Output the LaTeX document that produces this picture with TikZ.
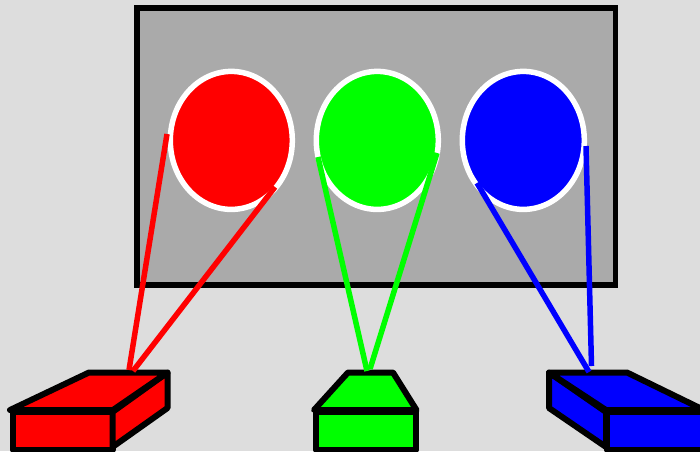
\documentclass[tikz,border=0pt]{standalone}
\usetikzlibrary{shapes.geometric}
\definecolor{bg}{HTML}{DDDDDD}
\definecolor{panel}{HTML}{AAAAAA}
\tikzset{
  lamp/.style={ellipse,draw=white,line width=5.5pt,minimum width=122pt,minimum height=138pt,inner sep=0pt},
  beam/.style={line width=5.5pt},
  boxface/.style={draw=black,line width=6pt,line join=round},
}
\begin{document}
\begin{tikzpicture}[x=1pt,y=-1pt]
\useasboundingbox (0,0) rectangle (700,451);
\fill[bg] (0,0) rectangle (700,451);
\node[draw=black,fill=panel,line width=5.5pt,minimum width=478.5pt,minimum height=277pt,inner sep=0pt] (panel) at (376,146.5) {};
\node[lamp,fill=red] (lr) at (231.3,140.4) {};
\node[lamp,fill=green] (lg) at (377.3,140.4) {};
\node[lamp,fill=blue] (lb) at (523.3,140.4) {};
% red box
\draw[boxface,fill=red] (13,412) rectangle (112.5,449.5);
\draw[boxface,fill=red] (112.5,412) -- (167.5,372.5) -- (167.5,408) -- (112.5,447) -- cycle;
\draw[boxface,fill=red] (10,410) -- (89,372.5) -- (167.5,372.5) -- (113,410) -- cycle;
% green box
\draw[boxface,fill=green] (316,412) rectangle (416,449.5);
\draw[boxface,fill=green] (314,410) -- (348,372.5) -- (393,372.5) -- (416.5,410) -- cycle;
% blue box
\draw[boxface,fill=blue] (607,412) rectangle (706,449.5);
\draw[boxface,fill=blue] (606,412) -- (549,372.5) -- (549,408) -- (606,447) -- cycle;
\draw[boxface,fill=blue] (549,372.5) -- (627,372.5) -- (704,410) -- (606,410) -- cycle;
% beams
\coordinate (r1a) at (167,134); \coordinate (r1b) at (129,370);
\coordinate (r2a) at (275,187); \coordinate (r2b) at (133,371);
\coordinate (g1a) at (318,157); \coordinate (g1b) at (367,371);
\coordinate (g2a) at (437,153); \coordinate (g2b) at (370,369);
\coordinate (b1a) at (477,183); \coordinate (b1b) at (589,372);
\coordinate (b2a) at (586,146); \coordinate (b2b) at (591.5,366);
\draw[beam,red] (r1a) -- (r1b);
\draw[beam,red] (r2a) -- (r2b);
\draw[beam,green] (g1a) -- (g1b);
\draw[beam,green] (g2a) -- (g2b);
\draw[beam,blue] (b1a) -- (b1b);
\draw[beam,blue] (b2a) -- (b2b);
\end{tikzpicture}
\end{document}
